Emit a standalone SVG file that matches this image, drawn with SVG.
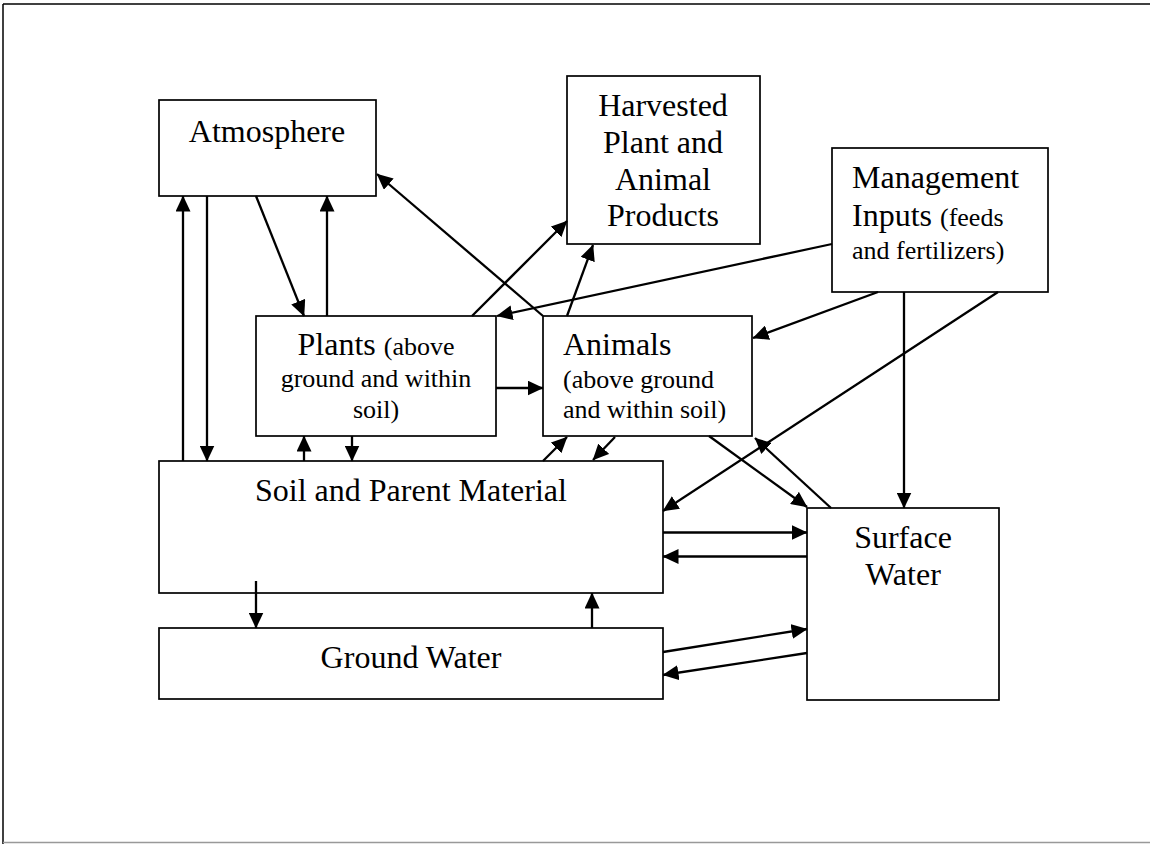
<svg xmlns="http://www.w3.org/2000/svg" width="1150" height="844" viewBox="0 0 1150 844">
<style>
.box{fill:#fff;stroke:#000;stroke-width:1.7}
.big{font-family:"Liberation Serif","Times New Roman",serif;font-size:32px;fill:#000}
.sm{font-family:"Liberation Serif","Times New Roman",serif;font-size:26px;fill:#000}
.c{text-anchor:middle}
.con line{stroke:#000;stroke-width:2.3;marker-end:url(#ah)}
</style>
<defs>
<marker id="ah" markerUnits="userSpaceOnUse" markerWidth="16" markerHeight="15" refX="15.5" refY="7.5" orient="auto" viewBox="0 0 16 15">
<path d="M0,0 L16,7.5 L0,15 z" fill="#000"/>
</marker>
</defs>
<rect width="1150" height="844" fill="#fff"/>
<g id="frame">
<line x1="3" y1="4" x2="1150" y2="4" stroke="#000" stroke-width="1.5"/>
<line x1="3" y1="4" x2="3" y2="844" stroke="#000" stroke-width="1.5"/>
<line x1="3" y1="842.5" x2="1150" y2="842.5" stroke="#999" stroke-width="1.5"/>
</g>
<g id="atmosphere">
<rect class="box" x="159" y="100" width="217" height="96"/>
<text class="big c" x="267" y="142">Atmosphere</text>
</g>
<g id="harvested">
<rect class="box" x="567" y="76" width="193" height="168"/>
<text class="big c" x="663" y="116">Harvested</text>
<text class="big c" x="663" y="153">Plant and</text>
<text class="big c" x="663" y="190">Animal</text>
<text class="big c" x="663" y="226">Products</text>
</g>
<g id="management">
<rect class="box" x="832" y="148" width="216" height="144"/>
<text class="big" x="852" y="188">Management</text>
<text x="852" y="226"><tspan class="big">Inputs </tspan><tspan class="sm">(feeds</tspan></text>
<text class="sm" x="852" y="259">and fertilizers)</text>
</g>
<g id="plants">
<rect class="box" x="256" y="316" width="240" height="120"/>
<text class="c" x="376" y="355"><tspan class="big">Plants </tspan><tspan class="sm">(above</tspan></text>
<text class="sm c" x="376" y="387">ground and within</text>
<text class="sm c" x="376" y="418">soil)</text>
</g>
<g id="animals">
<rect class="box" x="543" y="316" width="209" height="120"/>
<text class="big" x="563" y="355">Animals</text>
<text class="sm" x="563" y="388">(above ground</text>
<text class="sm" x="563" y="418">and within soil)</text>
</g>
<g id="soil">
<rect class="box" x="159" y="461" width="504" height="132"/>
<text class="big c" x="411" y="501">Soil and Parent Material</text>
</g>
<g id="groundwater">
<rect class="box" x="159" y="628" width="504" height="71"/>
<text class="big c" x="411" y="668">Ground Water</text>
</g>
<g id="surfacewater">
<rect class="box" x="807" y="508" width="192" height="192"/>
<text class="big c" x="903" y="548">Surface</text>
<text class="big c" x="903" y="585">Water</text>
</g>
<g id="connectors" class="con">
<line x1="183" y1="461" x2="183" y2="196"/>
<line x1="207" y1="196" x2="207" y2="461"/>
<line x1="256" y1="196" x2="304" y2="316"/>
<line x1="327" y1="316" x2="327" y2="196"/>
<line x1="543" y1="316" x2="377" y2="174"/>
<line x1="472" y1="316" x2="567" y2="221"/>
<line x1="567" y1="316" x2="593" y2="245"/>
<line x1="832" y1="244" x2="497" y2="316"/>
<line x1="878" y1="292" x2="753" y2="338"/>
<line x1="998" y1="292" x2="663" y2="511"/>
<line x1="904" y1="292" x2="904" y2="508"/>
<line x1="496" y1="388" x2="543" y2="388"/>
<line x1="304" y1="461" x2="304" y2="436"/>
<line x1="352" y1="436" x2="352" y2="461"/>
<line x1="615" y1="437" x2="593" y2="460"/>
<line x1="543" y1="461" x2="567" y2="437"/>
<line x1="709" y1="436" x2="807" y2="507"/>
<line x1="831" y1="508" x2="755" y2="438"/>
<line x1="663" y1="532.5" x2="807" y2="532.5"/>
<line x1="807" y1="556.5" x2="663" y2="556.5"/>
<line x1="663" y1="652" x2="807" y2="629"/>
<line x1="807" y1="653" x2="663" y2="675"/>
<line x1="256" y1="581" x2="256" y2="628"/>
<line x1="592" y1="628" x2="592" y2="593"/>
</g>
</svg>
